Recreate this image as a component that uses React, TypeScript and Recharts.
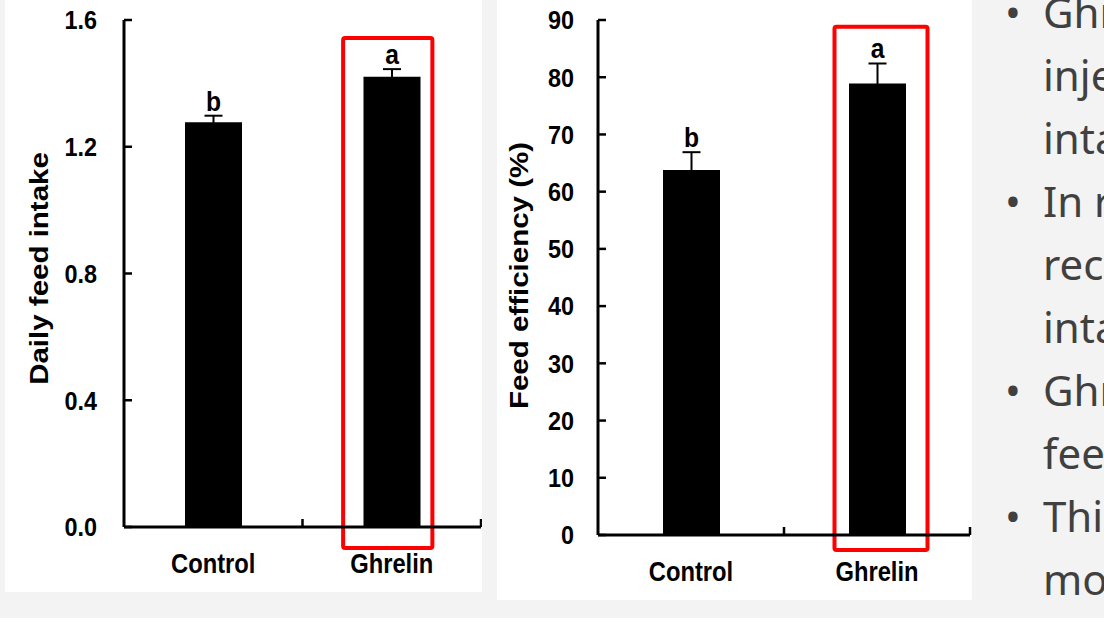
import React from "react";
import { BarChart, Bar, XAxis, YAxis, ErrorBar, LabelList, ReferenceArea } from "recharts";

// ---- data ----
const categories = ["Control", "Ghrelin"];
const intakeValues = [1.277, 1.421];
const intakeErrors = [0.021, 0.024];
const intakeLetters = ["b", "a"];
const intakeTicks = [0, 0.4, 0.8, 1.2, 1.6];

const efficiencyValues = [63.8, 78.9];
const efficiencyErrors = [3.1, 3.5];
const efficiencyLetters = ["b", "a"];
const efficiencyTicks = [0, 10, 20, 30, 40, 50, 60, 70, 80, 90];

const highlightCategory = "Ghrelin";

const slideLines = [
  { bullet: true, text: "Ghrelin" },
  { bullet: false, text: "injection" },
  { bullet: false, text: "intake" },
  { bullet: true, text: "In rats," },
  { bullet: false, text: "receptor" },
  { bullet: false, text: "intake" },
  { bullet: true, text: "Ghrelin" },
  { bullet: false, text: "feed" },
  { bullet: true, text: "This" },
  { bullet: false, text: "more" },
];

const intakeData = categories.map((name, i) => ({
  name,
  value: intakeValues[i],
  err: intakeErrors[i],
  letter: intakeLetters[i],
}));
const efficiencyData = categories.map((name, i) => ({
  name,
  value: efficiencyValues[i],
  err: efficiencyErrors[i],
  letter: efficiencyLetters[i],
}));

const FONT = "'Liberation Sans', Arial, sans-serif";
const SQ = 0.88;

const makeYTick = (gap: number, fmt: (v: number) => string) => (props: any) => {
  const { x, y, payload } = props;
  return (
    <g>
      <line x1={x + gap} x2={x + gap + 8} y1={y} y2={y} stroke="#000" strokeWidth={2.5} />
      <text
        transform={`translate(${x},${y}) scale(0.9,1)`}
        textAnchor="end"
        dy="0.36em"
        fontFamily={FONT}
        fontWeight="bold"
        fontSize={26}
        fill="#000"
      >
        {fmt(payload.value)}
      </text>
    </g>
  );
};

const makeXTick = (band: number, textOffset: number) => (props: any) => {
  const { x, y, payload } = props;
  return (
    <g>
      <line x1={x + band / 2} x2={x + band / 2} y1={y} y2={y - 8} stroke="#000" strokeWidth={2.5} />
      <text
        transform={`translate(${x},${y + textOffset}) scale(${SQ},1)`}
        textAnchor="middle"
        fontFamily={FONT}
        fontWeight="bold"
        fontSize={27}
        fill="#000"
      >
        {payload.value}
      </text>
    </g>
  );
};

const makeYLabel = (text: string, dx: number, dy: number) => (props: any) => {
  const vb = props.viewBox || {};
  const cx = vb.x + dx;
  const cy = vb.y + vb.height / 2 + dy;
  return (
    <text
      transform={`translate(${cx},${cy}) scale(0.9,1) rotate(-90)`}
      textAnchor="middle"
      dy="0.36em"
      fontFamily={FONT}
      fontWeight="bold"
      fontSize={29.5}
      fill="#000"
    >
      {text}
    </text>
  );
};

const makeLetter = (vals: number[], errs: number[], gap: number) => (props: any) => {
  const vb = props.viewBox || {};
  const x = props.x ?? vb.x;
  const y = props.y ?? vb.y;
  const width = props.width ?? vb.width;
  const height = props.height ?? vb.height;
  const i = props.index;
  const errPx = (height * errs[i]) / vals[i];
  return (
    <text
      transform={`translate(${x + width / 2},${y - errPx - gap}) scale(${SQ},1)`}
      textAnchor="middle"
      fontFamily={FONT}
      fontWeight="bold"
      fontSize={28}
      fill="#000"
    >
      {props.value}
    </text>
  );
};

const makeRedBox = (shift: number) => (props: any) => {
  const { x, y, width, height } = props;
  const w = width * 0.5;
  return (
    <rect
      x={x + width / 2 - w / 2 + shift}
      y={y}
      width={w}
      height={height}
      fill="none"
      stroke="#ff0000"
      strokeWidth={4}
      rx={2}
    />
  );
};

function Panel(props: {
  data: any[];
  width: number;
  height: number;
  yWidth: number;
  right: number;
  ticks: number[];
  fmt: (v: number) => string;
  label: string;
  labelDx: number;
  labelDy: number;
  boxY: [number, number];
  boxShift: number;
  vals: number[];
  errs: number[];
  tickGap: number;
}) {
  const top = 20;
  const xh = 65;
  const plotW = props.width - props.yWidth - props.right;
  const band = plotW / props.data.length;
  return (
    <BarChart
      width={props.width}
      height={props.height}
      data={props.data}
      margin={{ top, right: props.right, left: 0, bottom: 0 }}
      barSize={57}
    >
      <ReferenceArea
        x1={highlightCategory}
        x2={highlightCategory}
        y1={props.boxY[0]}
        y2={props.boxY[1]}
        ifOverflow="visible"
        shape={makeRedBox(props.boxShift)}
      />
      <XAxis
        dataKey="name"
        height={xh}
        tickSize={0}
        tickMargin={0}
        axisLine={{ stroke: "#000", strokeWidth: 3 }}
        tickLine={false}
        tick={makeXTick(band, 46)}
        interval={0}
      />
      <YAxis
        width={props.yWidth}
        domain={[props.ticks[0], props.ticks[props.ticks.length - 1]]}
        ticks={props.ticks}
        interval={0}
        tickSize={0}
        tickMargin={props.tickGap}
        axisLine={{ stroke: "#000", strokeWidth: 3 }}
        tickLine={false}
        tick={makeYTick(props.tickGap, props.fmt)}
        label={makeYLabel(props.label, props.labelDx, props.labelDy)}
      />
      <Bar dataKey="value" fill="#000" isAnimationActive={false}>
        <ErrorBar dataKey="err" width={9} stroke="#000" strokeWidth={2} direction="y" />
        <LabelList dataKey="letter" content={makeLetter(props.vals, props.errs, 5)} />
      </Bar>
    </BarChart>
  );
}

export default function App() {
  return (
    <div
      style={{
        position: "absolute",
        left: 0,
        top: 0,
        width: 1104,
        height: 618,
        background: "#f3f3f3",
        overflow: "hidden",
      }}
    >
      <div style={{ position: "absolute", left: 5, top: 0, width: 477, height: 592, background: "#fff" }}>
        <Panel
          data={intakeData}
          width={477}
          height={592}
          yWidth={119}
          right={1}
          ticks={intakeTicks}
          fmt={(v) => v.toFixed(1)}
          label="Daily feed intake"
          labelDx={33}
          labelDy={-5}
          boxY={[-0.066, 1.543]}
          boxShift={-4}
          vals={intakeValues}
          errs={intakeErrors}
          tickGap={27}
        />
      </div>
      <div style={{ position: "absolute", left: 497, top: 0, width: 475, height: 600, background: "#fff" }}>
        <Panel
          data={efficiencyData}
          width={475}
          height={600}
          yWidth={101}
          right={2}
          ticks={efficiencyTicks}
          fmt={(v) => String(v)}
          label="Feed efficiency (%)"
          labelDx={21}
          labelDy={-2}
          boxY={[-2.6, 88.8]}
          boxShift={4}
          vals={efficiencyValues}
          errs={efficiencyErrors}
          tickGap={24}
        />
      </div>
      <div
        style={{
          position: "absolute",
          left: 1043,
          top: -20,
          fontFamily: "'Noto Sans', 'Open Sans', sans-serif",
          fontSize: 42,
          lineHeight: "63px",
          color: "#404040",
          whiteSpace: "nowrap",
        }}
      >
        {slideLines.map((l, i) => (
          <div key={i} style={{ position: "relative" }}>
            {l.bullet && (
              <span style={{ position: "absolute", left: -38, top: 0, fontSize: 42 }}>•</span>
            )}
            {l.text}
          </div>
        ))}
      </div>
    </div>
  );
}
